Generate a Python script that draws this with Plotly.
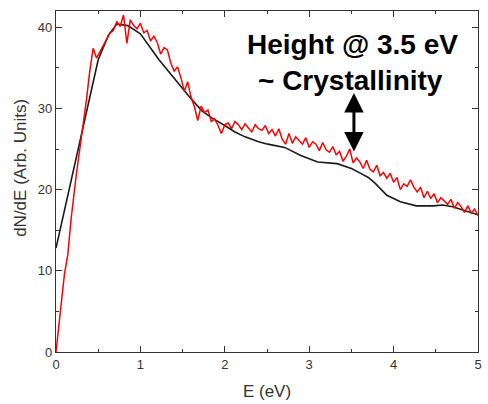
import plotly.graph_objects as go

# Black (fit/reference) curve
black_E = [0.00, 0.50, 0.62, 0.72, 0.85, 1.00, 1.22, 1.42, 1.60, 1.73, 1.85, 2.00, 2.12, 2.24,
           2.40, 2.51, 2.71, 2.90, 3.10, 3.33, 3.50, 3.61, 3.70, 3.78, 3.92, 4.08, 4.27, 4.47,
           4.58, 4.70, 4.85, 5.00]
black_N = [12.8, 36.0, 39.0, 40.4, 40.2, 39.2, 36.0, 33.4, 31.2, 29.7, 28.8, 27.9, 27.1, 26.5,
           25.9, 25.6, 25.2, 24.2, 23.4, 23.2, 22.6, 22.0, 21.5, 20.8, 19.3, 18.5, 18.0, 18.0,
           18.1, 17.9, 17.4, 16.9]

# Red (measured) curve
red_E = [0.00, 0.06, 0.10, 0.14, 0.18, 0.24, 0.30, 0.34,
         0.36, 0.40, 0.44, 0.48, 0.52, 0.56, 0.60, 0.64, 0.68, 0.72, 0.76, 0.80, 0.84, 0.88,
         0.92, 0.96, 1.00, 1.04, 1.08, 1.12, 1.16, 1.20, 1.24, 1.28, 1.32, 1.36, 1.40, 1.44,
         1.48, 1.52, 1.56, 1.60, 1.64, 1.68, 1.72, 1.76, 1.80, 1.84, 1.88, 1.92, 1.96, 2.00,
         2.04, 2.08, 2.12, 2.16, 2.20, 2.24, 2.28, 2.32, 2.36, 2.40, 2.44, 2.48, 2.52, 2.56,
         2.60, 2.64, 2.68, 2.72, 2.76, 2.80, 2.84, 2.88, 2.92, 2.96, 3.00, 3.04, 3.08, 3.12,
         3.16, 3.20, 3.24, 3.28, 3.32, 3.36, 3.40, 3.44, 3.48, 3.52, 3.56, 3.60, 3.64, 3.68,
         3.72, 3.76, 3.80, 3.84, 3.88, 3.92, 3.96, 4.00, 4.04, 4.08, 4.12, 4.16, 4.20, 4.24,
         4.28, 4.32, 4.36, 4.40, 4.44, 4.48, 4.52, 4.56, 4.60, 4.64, 4.68, 4.72, 4.76, 4.80,
         4.84, 4.88, 4.92, 4.96, 5.00]
red_N = [0.0, 5.5, 9.6, 12.0, 16.5, 21.8, 26.2, 29.5,
         31.0, 34.6, 37.4, 36.2, 37.0, 37.9, 38.5, 39.3, 39.6, 40.7, 40.1, 41.5, 38.0, 40.9,
         40.2, 39.8, 40.5, 39.3, 39.6, 38.3, 38.9, 38.1, 36.7, 37.5, 37.2, 35.6, 34.6, 35.1,
         33.8, 32.1, 33.3, 31.4, 30.2, 28.5, 30.3, 29.5, 29.8, 28.4, 28.7, 27.9, 26.9, 28.0,
         28.2, 27.5, 28.4, 28.0, 27.4, 28.1, 27.6, 27.1, 28.0, 27.5, 27.3, 27.9, 26.9, 27.4,
         26.6, 27.5, 26.2, 25.6, 26.9, 25.7, 26.5, 26.1, 25.6, 26.4, 25.2, 25.9, 25.6, 24.8,
         25.8, 24.9, 24.6, 25.3, 24.3, 24.7, 23.5, 24.1, 25.0, 23.3, 23.9, 23.4, 22.6, 23.6,
         22.5, 22.2, 23.0, 21.7, 22.1, 21.4, 22.0, 20.9, 21.5, 20.0, 20.7, 20.4, 21.2, 20.3,
         19.7, 20.3, 19.0, 19.8, 18.9, 19.5, 18.4, 19.0, 18.6, 18.2, 18.8, 17.7, 18.4, 17.9,
         17.2, 18.0, 17.1, 17.6, 16.8]

x_ticks = [0, 1, 2, 3, 4, 5]
y_ticks = [0, 10, 20, 30, 40]

FONT = "Liberation Sans, Arial, sans-serif"

fig = go.Figure()
fig.add_trace(go.Scatter(x=black_E, y=black_N, mode="lines",
                         line=dict(color="#1a1a1a", width=1.6), showlegend=False))
fig.add_trace(go.Scatter(x=red_E, y=red_N, mode="lines",
                         line=dict(color="#ff0000", width=1.5), showlegend=False))

axis_common = dict(showline=True, linecolor="#333333", linewidth=1.2, mirror="allticks",
                   ticks="inside", ticklen=6, tickwidth=1.2, tickcolor="#333333",
                   showgrid=False, zeroline=False,
                   tickfont=dict(family=FONT, size=13, color="#333333"))

fig.update_xaxes(range=[0, 5], tickvals=x_ticks,
                 minor=dict(dtick=0.5, ticks="inside", ticklen=3, tickwidth=1.2,
                            tickcolor="#333333", showgrid=False),
                 title=dict(text="E (eV)", font=dict(family=FONT, size=17, color="#333333"),
                            standoff=14),
                 **axis_common)
fig.update_yaxes(range=[0, 42], tickvals=y_ticks,
                 minor=dict(dtick=5, ticks="inside", ticklen=3, tickwidth=1.2,
                            tickcolor="#333333", showgrid=False),
                 **axis_common)

fig.add_annotation(text="dN/dE (Arb. Units)", xref="paper", yref="paper",
                   x=-0.083, y=0.54, textangle=-90, showarrow=False,
                   font=dict(family=FONT, size=17, color="#333333"),
                   xanchor="center", yanchor="middle")

fig.add_annotation(text="<b>Height @ 3.5 eV</b>", x=3.51, y=37.9, showarrow=False,
                   font=dict(family=FONT, size=28, color="black"),
                   xanchor="center", yanchor="middle")
fig.add_annotation(text="<b>~ Crystallinity</b>", x=3.49, y=33.4, showarrow=False,
                   font=dict(family=FONT, size=28, color="black"),
                   xanchor="center", yanchor="middle")

fig.add_annotation(x=3.53, y=24.7, ax=3.53, ay=32.1, xref="x", yref="y",
                   axref="x", ayref="y", text="", showarrow=True,
                   arrowhead=2, startarrowhead=2, arrowside="end+start",
                   arrowsize=1.3, startarrowsize=1.3, arrowwidth=3, arrowcolor="black")

fig.update_layout(width=488, height=404, margin=dict(l=56, r=6, t=11, b=49),
                  paper_bgcolor="white", plot_bgcolor="white")

fig.write_html("out.html")
